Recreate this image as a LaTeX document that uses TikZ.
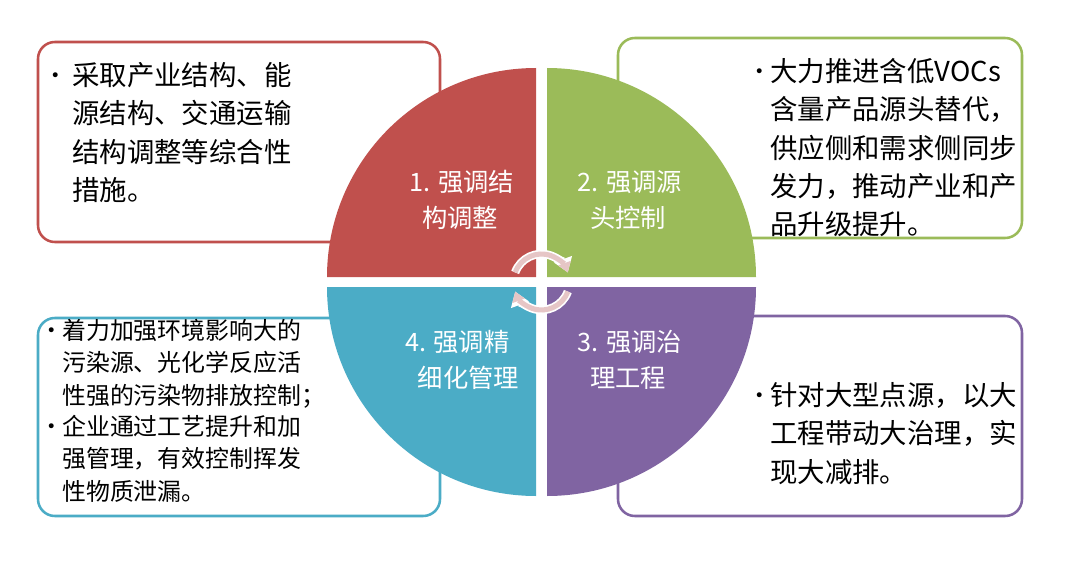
\documentclass[tikz,border=0pt]{standalone}
\usepackage{fontspec}
\setmainfont{Noto Sans CJK SC}
\newfontfamily\dotfont{DejaVu Sans}
\usetikzlibrary{positioning,arrows.meta}
\definecolor{qred}{HTML}{C0504D}
\definecolor{qgreen}{HTML}{9BBB59}
\definecolor{qblue}{HTML}{4BACC6}
\definecolor{qpurple}{HTML}{8064A2}
\definecolor{cyclepink}{HTML}{E6C6C6}
\tikzset{
  infobox/.style={rounded corners=12, line width=1.8pt, fill=white},
  quadtext/.style={text=white, align=left, font=\fontsize{18}{26}\selectfont},
  bullet/.style={anchor=west, inner sep=0pt, font=\dotfont\fontsize{12}{12}\selectfont},
  boxtext/.style={anchor=north west, inner sep=0pt, align=left, font=\fontsize{19.5}{27.3}\selectfont},
  smalltext/.style={anchor=north west, inner sep=0pt, align=left, font=\fontsize{17}{23}\selectfont}
}
\begin{document}
\begin{tikzpicture}[x=0.025cm,y=-0.025cm]
  \useasboundingbox[fill=white] (0,0) rectangle (1080,565);
  %Outer boxes
  \draw[infobox, draw=qred] (38,42) rectangle (440,242);
  \draw[infobox, draw=qgreen] (618,38) rectangle (1022,238);
  \draw[infobox, draw=qblue] (38,318) rectangle (440,516);
  \draw[infobox, draw=qpurple] (618,316) rectangle (1022,516);
  %Quadrants of the circle
  \coordinate (c) at (541.5,282);
  \fill[qred] (536,277) -- ++(-209,0) arc[start angle=180, end angle=270, radius=209] -- cycle;
  \fill[qgreen] (547,277) -- ++(0,-209) arc[start angle=270, end angle=360, radius=209] -- cycle;
  \fill[qpurple] (547,287) -- ++(209,0) arc[start angle=0, end angle=90, radius=209] -- cycle;
  \fill[qblue] (536,287) -- ++(0,209) arc[start angle=90, end angle=180, radius=209] -- cycle;
  %Cycle arrows in the middle
  \foreach \a/\b in {200/340, 20/160} {
    \draw[white, line width=6pt, -{Triangle[length=10pt,width=13pt]}] (c) ++(\a:28) arc[start angle=\a, end angle=\b, radius=28];
    \draw[cyclepink, line width=3.6pt, -{Triangle[length=7pt,width=9pt]}] (c) ++(\a:28) arc[start angle=\a, end angle=\b, radius=28];
  }
  %Quadrant labels
  \node[quadtext] (q1) at (462,200) {1. 强调结\\\hspace*{0.5em}构调整};
  \node[quadtext] (q2) at (630,200) {2. 强调源\\\hspace*{0.5em}头控制};
  \node[quadtext] (q3) at (630,360) {3. 强调治\\\hspace*{0.5em}理工程};
  \node[quadtext] (q4) at (462,360) {4. 强调精\\\hspace*{0.5em}细化管理};
  %Box texts
  \node[bullet] (b1) at (50,77) {•};
  \node[boxtext] (t1) at (72,62) {采取产业结构、能\\源结构、交通运输\\结构调整等综合性\\措施。};
  \node[bullet] (b2) at (754,73) {•};
  \node[boxtext] (t2) at (770,58) {大力推进含低VOCs\\含量产品源头替代，\\供应侧和需求侧同步\\发力，推动产业和产\\品升级提升。};
  \node[bullet] (b3a) at (46,332) {•};
  \node[smalltext] (t3a) at (62,319) {着力加强环境影响大的\\污染源、光化学反应活\\性强的污染物排放控制；};
  \node[bullet] (b3b) at (46,428) {•};
  \node[smalltext] (t3b) at (62,415) {企业通过工艺提升和加\\强管理，有效控制挥发\\性物质泄漏。};
  \node[bullet] (b4) at (754,397) {•};
  \node[boxtext] (t4) at (770,382) {针对大型点源，以大\\工程带动大治理，实\\现大减排。};
\end{tikzpicture}
\end{document}
